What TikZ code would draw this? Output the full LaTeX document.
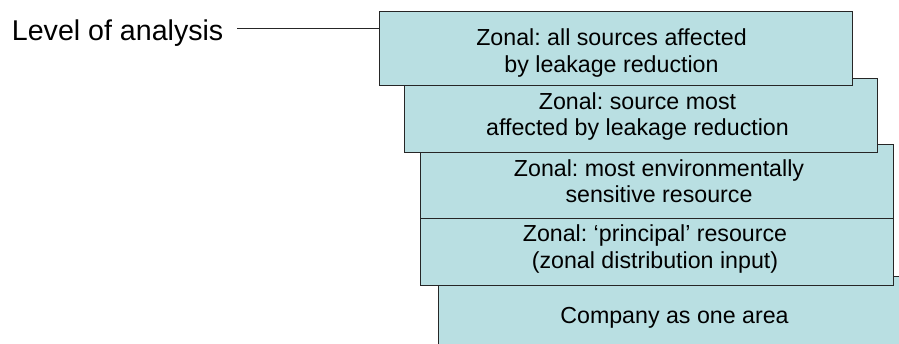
\documentclass[tikz,border=0pt]{standalone}
\usepackage{fontspec}
\setmainfont{Liberation Sans}
\frenchspacing
\definecolor{boxfill}{RGB}{185,223,226}
\definecolor{boxline}{RGB}{38,38,38}
\begin{document}
\begin{tikzpicture}[x=1pt,y=-1pt,
  level/.style={draw=boxline, line width=0.9pt, fill=boxfill,
    minimum width=473pt, minimum height=74pt, inner sep=0pt},
  leveltext/.style={inner sep=0pt, align=center,
    font=\fontsize{23.2}{26.6}\selectfont},
  leader/.style={draw=boxline, line width=0.8pt}
]
\useasboundingbox (0,0) rectangle (899,344);

% stacked levels, drawn from the back (bottom) to the front (top)
\node[level] (b5) at (674.5,313) {};
\node[leveltext] (t5) at ([yshift=-5pt]b5.center) {Company as one area};
\node[level] (b4) at (657,248) {};
\node[leveltext] (t4) at ([xshift=-2pt,yshift=-1pt]b4.center) {Zonal: ‘principal’ resource\\ (zonal distribution input)};
\node[level] (b3) at (657,181.2) {};
\node[leveltext] (t3) at ([xshift=2pt]b3.center) {Zonal: most environmentally\\sensitive resource};
\node[level] (b2) at (640.5,115) {};
\node[leveltext] (t2) at ([xshift=-3pt,yshift=-1.5pt]b2.center) {Zonal: source most\\affected by leakage reduction};
\node[level] (b1) at (615.5,48.75) {};
\node[leveltext] (t1) at ([xshift=-4pt,yshift=-4pt]b1.center) {Zonal: all sources affected\\by leakage reduction};

% axis label with its leader line
\node[anchor=base west, inner sep=0pt, font=\fontsize{28.6}{30}\selectfont] (lbl) at (11.7,40.7) {Level of analysis};
\coordinate (lead) at (237,28);
\draw[leader] (lead) -- (lead -| b1.west);
\end{tikzpicture}
\end{document}
